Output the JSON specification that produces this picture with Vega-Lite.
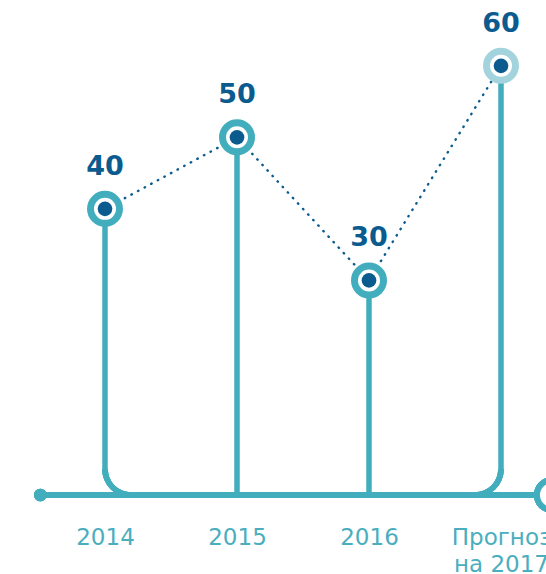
{
  "$schema": "https://vega.github.io/schema/vega-lite/v6.json",
  "width": 546,
  "height": 495,
  "autosize": "none",
  "padding": {"left": 0, "top": 0, "right": 0, "bottom": 79},
  "config": {"view": {"stroke": null}},
  "data": {
    "values": [
      {"year": 2014, "value": 40, "forecast": false},
      {"year": 2015, "value": 50, "forecast": false},
      {"year": 2016, "value": 30, "forecast": false},
      {"year": 2017, "value": 60, "forecast": true}
    ]
  },
  "encoding": {
    "x": {
      "field": "year",
      "type": "quantitative",
      "scale": {"domain": [2013.2045, 2017.3409], "nice": false, "zero": false},
      "axis": {
        "values": [2014, 2015, 2016, 2017],
        "labelExpr": "datum.value == 2017 ? ['Прогноз', 'на 2017'] : datum.label",
        "format": "d",
        "domain": false,
        "ticks": false,
        "tickSize": 0,
        "grid": false,
        "title": null,
        "labelPadding": 31,
        "labelBaseline": "top",
        "labelFont": "DejaVu Sans",
        "labelFontSize": 23,
        "labelLineHeight": 27,
        "labelColor": "#4aaebe",
        "labelOverlap": false,
        "labelBound": false,
        "labelFlush": false
      }
    },
    "y": {
      "field": "value",
      "type": "quantitative",
      "scale": {"domain": [0, 69.2], "nice": false, "zero": false},
      "axis": null
    }
  },
  "layer": [
    {
      "mark": {"type": "rule", "color": "#42aebd", "strokeWidth": 6},
      "encoding": {
        "x": {"datum": 2013.51},
        "x2": {"datum": 2017.386},
        "y": {"datum": 0},
        "y2": null
      }
    },
    {
      "transform": [{"filter": "datum.year == 2015 || datum.year == 2016"}],
      "mark": {"type": "rule", "color": "#42aebd", "strokeWidth": 5.5},
      "encoding": {"y2": {"datum": 0}}
    },
    {
      "transform": [{"filter": "datum.year == 2014 || datum.year == 2017"}],
      "mark": {"type": "rule", "color": "#42aebd", "strokeWidth": 5.5, "y2Offset": -26},
      "encoding": {"y2": {"datum": 0}}
    },
    {
      "mark": {
        "type": "arc",
        "color": "#42aebd",
        "radius": 28.8,
        "radius2": 23.2,
        "theta": 3.14159,
        "theta2": 4.71239,
        "xOffset": 26,
        "yOffset": -26
      },
      "encoding": {"x": {"datum": 2014}, "y": {"datum": 0}}
    },
    {
      "mark": {
        "type": "arc",
        "color": "#42aebd",
        "radius": 28.8,
        "radius2": 23.2,
        "theta": 1.5708,
        "theta2": 3.14159,
        "xOffset": -26,
        "yOffset": -26
      },
      "encoding": {"x": {"datum": 2017}, "y": {"datum": 0}}
    },
    {
      "mark": {
        "type": "line",
        "color": "#0b5b8f",
        "strokeWidth": 2.4,
        "strokeDash": [0.5, 7],
        "strokeCap": "round"
      },
      "encoding": {}
    },
    {
      "mark": {"type": "point", "shape": "circle", "filled": true, "fill": "white", "strokeWidth": 7, "size": 841, "opacity": 1},
      "encoding": {
        "stroke": {
          "condition": {"test": "datum.forecast", "value": "#a3d4dd"},
          "value": "#42aebd"
        }
      }
    },
    {
      "mark": {"type": "point", "shape": "circle", "filled": true, "color": "#0b5b8f", "size": 215, "opacity": 1}
    },
    {
      "mark": {
        "type": "text",
        "font": "DejaVu Sans",
        "fontWeight": "bold",
        "fontSize": 27,
        "color": "#0b5b8f",
        "baseline": "middle",
        "align": "center",
        "dy": -42
      },
      "encoding": {"text": {"field": "value", "type": "quantitative"}}
    },
    {
      "mark": {"type": "point", "shape": "circle", "filled": true, "color": "#42aebd", "size": 160, "opacity": 1},
      "encoding": {"x": {"datum": 2013.51}, "y": {"datum": 0}}
    },
    {
      "mark": {"type": "point", "shape": "circle", "filled": true, "fill": "white", "stroke": "#42aebd", "strokeWidth": 6, "size": 900, "opacity": 1},
      "encoding": {"x": {"datum": 2017.386}, "y": {"datum": 0}}
    }
  ]
}
